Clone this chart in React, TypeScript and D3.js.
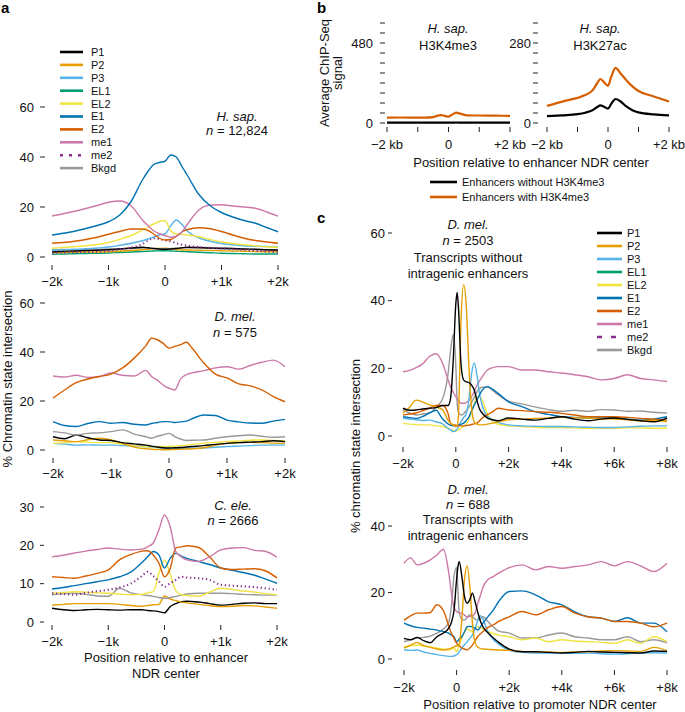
import React from "react";
import * as d3 from "d3";

const FONT = "'Liberation Sans', Arial, Helvetica, sans-serif";
const M = "\u2212";

// ---------- chromatin states ----------
const stateNames = ["P1", "P2", "P3", "EL1", "EL2", "E1", "E2", "me1", "me2", "Bkgd"];
const stateColors = ["#000000", "#E69F00", "#56B4E9", "#009E73", "#F0E442", "#0072B2", "#D55E00", "#CC79A7", "#882E8F", "#999999"];

// ---------- panel a: position relative to enhancer NDR center (kb) ----------
const enhX = [-2, -1.8, -1.6, -1.4, -1.2, -1.0, -0.8, -0.6, -0.4, -0.3, -0.2, -0.1, 0, 0.1, 0.2, 0.3, 0.4, 0.6, 0.8, 1.0, 1.2, 1.4, 1.6, 1.8, 2.0];
const enhTicks = [-2, -1, 0, 1, 2];
const enhTickLabels = [M + "2k", M + "1k", "0", "+1k", "+2k"];

// H. sap.
const hsapE1 = [8.8, 9.5, 10.3, 11.4, 12.6, 14.1, 16.8, 22.2, 30.8, 34.3, 37.0, 37.8, 38.3, 40.8, 40.0, 36.2, 32.5, 25.0, 20.5, 17.8, 16.0, 14.6, 13.5, 11.8, 10.1];
const hsapMe1 = [16.4, 17.3, 18.3, 19.4, 20.6, 21.9, 22.4, 20.5, 14.8, 12.5, 10.5, 9.3, 8.6, 7.9, 8.3, 10.0, 13.2, 18.8, 20.8, 20.9, 20.4, 20.0, 19.5, 18.0, 16.3];
const hsapE2 = [5.5, 5.8, 6.3, 7.0, 7.9, 9.1, 10.2, 11.2, 11.2, 10.6, 9.2, 7.5, 6.8, 7.0, 8.2, 10.0, 11.0, 11.7, 11.3, 10.2, 8.8, 7.5, 6.6, 6.0, 5.5];
const hsapEL2 = [3.5, 3.8, 4.1, 4.5, 5.0, 5.8, 7.1, 8.6, 10.8, 12.0, 13.2, 14.2, 14.6, 10.5, 9.2, 9.0, 8.8, 8.1, 7.0, 6.0, 5.4, 4.9, 4.5, 4.1, 3.9];
const hsapP3 = [2.8, 2.9, 3.1, 3.3, 3.6, 4.0, 4.7, 5.5, 6.5, 7.2, 8.0, 8.8, 9.3, 12.4, 14.8, 13.0, 10.3, 7.6, 6.3, 5.4, 4.9, 4.5, 4.3, 4.2, 4.1];
const hsapMe2 = [1.7, 1.8, 1.9, 2.0, 2.1, 2.4, 3.0, 3.8, 5.2, 6.6, 7.5, 7.2, 6.7, 6.3, 5.5, 4.9, 4.5, 4.0, 3.7, 3.4, 3.1, 2.8, 2.5, 2.2, 1.9];
const hsapP1 = [2.0, 2.3, 2.4, 2.6, 2.7, 2.9, 3.2, 3.6, 3.9, 3.7, 3.4, 3.2, 3.1, 3.2, 3.4, 3.7, 3.9, 3.8, 3.6, 3.5, 3.4, 3.2, 3.1, 2.9, 2.8];
const hsapP2 = [1.7, 1.8, 1.9, 2.0, 2.0, 2.1, 2.3, 2.6, 2.9, 3.1, 3.3, 3.4, 3.5, 3.3, 3.0, 2.8, 2.8, 2.7, 2.6, 2.5, 2.4, 2.3, 2.2, 2.1, 2.1];
const hsapEL1 = [1.1, 1.2, 1.3, 1.4, 1.5, 1.6, 1.8, 2.0, 2.2, 2.3, 2.4, 2.5, 2.5, 2.4, 2.3, 2.2, 2.1, 1.9, 1.7, 1.5, 1.4, 1.3, 1.2, 1.2, 1.2];
const hsapBkgd = [2.9, 3.0, 2.8, 3.1, 3.0, 3.2, 3.3, 3.4, 3.6, 3.5, 3.4, 3.3, 3.3, 3.4, 3.5, 3.6, 3.7, 3.6, 3.5, 3.3, 3.2, 3.1, 3.0, 2.9, 2.9];

// D. mel.
const dmelE2 = [21.2, 24.5, 27.5, 29.0, 30.0, 31.0, 33.5, 37.5, 42.5, 45.6, 45.0, 43.5, 41.6, 42.3, 43.0, 44.0, 41.5, 35.5, 31.0, 29.4, 27.0, 26.2, 24.5, 21.8, 19.7];
const dmelMe1 = [30.2, 29.8, 30.5, 29.6, 30.0, 31.4, 30.5, 30.2, 32.5, 30.0, 28.5, 26.5, 25.2, 24.5, 29.0, 30.8, 31.5, 32.4, 33.5, 34.0, 33.0, 34.5, 35.8, 36.7, 34.0];
const dmelE1 = [11.6, 10.0, 9.6, 10.8, 11.6, 10.9, 11.2, 10.5, 10.2, 10.8, 11.2, 11.6, 11.6, 11.2, 11.5, 11.8, 12.8, 14.3, 14.1, 12.2, 11.5, 11.0, 10.9, 11.8, 12.5];
const dmelBkgd = [7.5, 7.0, 6.1, 6.8, 7.0, 7.5, 8.2, 6.5, 5.4, 4.8, 5.6, 6.2, 6.8, 5.5, 4.5, 3.9, 4.0, 4.1, 4.8, 5.4, 5.8, 6.1, 5.6, 5.2, 5.4];
const dmelP1 = [5.4, 4.6, 6.1, 5.0, 4.1, 3.9, 3.0, 2.5, 2.0, 1.6, 1.2, 0.9, 0.8, 0.9, 1.0, 1.2, 1.4, 1.8, 2.3, 2.7, 3.0, 3.2, 3.4, 3.8, 3.4];
const dmelP2 = [4.1, 3.8, 3.4, 4.2, 4.8, 4.1, 2.6, 1.2, 0.5, 0.3, 0.2, 0.1, 0.1, 0.2, 0.3, 0.4, 0.5, 0.9, 1.9, 2.7, 3.0, 3.1, 3.0, 2.8, 2.7];
const dmelEL2 = [2.7, 3.0, 3.4, 3.2, 3.0, 3.0, 2.4, 1.8, 1.4, 1.3, 1.4, 1.4, 1.4, 1.6, 1.8, 2.0, 2.3, 2.8, 3.1, 3.4, 3.7, 4.0, 4.1, 3.9, 3.8];
const dmelP3 = [2.7, 2.4, 2.0, 2.1, 2.0, 2.0, 1.8, 1.6, 1.4, 1.2, 1.0, 0.8, 0.7, 0.7, 0.7, 0.7, 0.7, 0.8, 1.1, 1.4, 1.6, 1.8, 2.0, 2.0, 2.0];

// C. ele.
const celeMe1 = [17.0, 17.4, 18.0, 18.5, 18.9, 19.3, 19.0, 18.8, 19.0, 19.6, 20.6, 24.0, 27.9, 24.9, 18.4, 17.0, 16.2, 15.8, 17.0, 18.8, 19.3, 19.4, 18.7, 18.4, 16.9];
const celeE2 = [11.8, 11.6, 11.4, 12.0, 12.7, 13.6, 16.2, 17.6, 18.5, 18.6, 17.5, 15.4, 11.8, 13.9, 19.3, 19.6, 19.9, 19.5, 17.0, 14.1, 13.7, 13.8, 13.9, 13.3, 11.5];
const celeE1 = [8.6, 9.0, 9.5, 10.0, 10.5, 11.0, 11.8, 13.0, 15.5, 17.0, 18.4, 17.5, 14.1, 16.6, 17.9, 17.2, 16.6, 15.8, 15.0, 14.1, 13.5, 12.9, 12.2, 11.2, 10.1];
const celeMe2 = [7.5, 7.3, 7.1, 7.6, 8.0, 8.4, 9.0, 10.0, 12.0, 13.1, 12.0, 10.6, 9.2, 10.1, 11.0, 11.8, 11.6, 11.4, 11.0, 9.7, 9.5, 9.3, 9.1, 8.8, 8.4];
const celeEL2 = [7.5, 7.7, 7.9, 7.8, 7.6, 7.5, 7.3, 7.1, 7.2, 7.6, 7.9, 12.7, 16.2, 12.5, 8.2, 7.1, 6.9, 6.7, 7.8, 8.8, 8.5, 8.1, 7.8, 7.4, 7.1];
const celeBkgd = [7.1, 7.4, 7.5, 7.2, 6.8, 6.7, 8.8, 7.6, 7.1, 6.9, 6.7, 6.4, 6.2, 6.4, 6.7, 7.0, 7.3, 7.5, 7.5, 7.5, 7.4, 7.2, 7.1, 7.0, 7.1];
const celeP2 = [4.4, 4.6, 4.8, 4.8, 4.8, 4.8, 4.6, 4.3, 4.1, 4.3, 4.5, 4.6, 6.8, 6.0, 5.6, 5.2, 5.0, 4.6, 4.3, 4.0, 4.1, 4.3, 4.2, 3.9, 3.6];
const celeP1 = [3.6, 3.2, 3.0, 3.2, 3.3, 3.2, 3.1, 3.2, 3.2, 3.0, 2.9, 2.7, 2.4, 4.0, 4.8, 5.3, 5.4, 5.2, 4.8, 4.4, 4.6, 4.9, 5.0, 4.8, 4.8];

// ---------- panel b: average ChIP-Seq signal ----------
const chipX = [-2, -1.5, -1, -0.75, -0.5, -0.35, -0.25, -0.15, 0, 0.1, 0.25, 0.4, 0.6, 0.8, 1, 1.5, 2];
const k4WithoutK4 = [2, 2, 2, 2, 2, 2, 2, 2, 2, 2, 3, 2, 2, 2, 2, 2, 2];
const k4WithK4 = [32, 33, 32, 32, 35, 44, 47, 44, 38, 48, 62, 55, 46, 45, 45, 44, 43];
const k27WithoutK4 = [24, 27, 31, 36, 45, 56, 62, 58, 50, 66, 84, 76, 58, 45, 37, 30, 27];
const k27WithK4 = [60, 75, 88, 98, 115, 140, 154, 145, 130, 160, 193, 175, 150, 128, 112, 93, 75];
const chipTicks = [-2, -1, 0, 1, 2];
const chipTickLabels = [M + "2 kb", "", "0", "", "+2 kb"];
const chipLegend = ["Enhancers without H3K4me3", "Enhancers with H3K4me3"];
const chipColors = ["#000000", "#D55E00"];

// ---------- panel c: position relative to promoter NDR center (kb) ----------
const proX = [-2, -1.75, -1.5, -1.25, -1, -0.75, -0.5, -0.3, -0.2, -0.1, 0, 0.05, 0.1, 0.2, 0.3, 0.4, 0.5, 0.6, 0.7, 0.8, 0.9, 1.0, 1.2, 1.4, 1.6, 2.0, 2.5, 3, 3.5, 4, 4.5, 5, 5.5, 6, 6.5, 7, 7.5, 8];
const proTicks = [-2, 0, 2, 4, 6, 8];
const proTickLabels = [M + "2k", "0", "+2k", "+4k", "+6k", "+8k"];

// transcripts without intragenic enhancers (n = 2503)
const noEnhP1 = [8.2, 7.6, 7.7, 8.0, 8.2, 8.4, 9.0, 9.0, 11, 22, 39, 42.4, 38, 21, 16.5, 16.0, 15.8, 15, 13.6, 10.5, 8.0, 6.8, 5.3, 4.8, 4.5, 5.3, 5.0, 4.7, 5.2, 5.7, 5.0, 4.5, 5.0, 5.3, 4.9, 4.5, 4.2, 5.3];
const noEnhP2 = [6.8, 8.5, 10.6, 10.0, 9.2, 8.6, 7.8, 4.7, 3.8, 3.3, 2.8, 3.0, 6, 35, 44.7, 38, 20, 8, 4.2, 3.5, 3.3, 3.3, 3.5, 3.8, 4.2, 4.8, 5.0, 5.2, 5.3, 5.5, 5.4, 5.3, 5.1, 5.0, 4.8, 4.5, 4.6, 4.3];
const noEnhP3 = [5.2, 5.0, 4.8, 4.6, 4.7, 4.2, 3.6, 2.3, 1.8, 1.3, 1.6, 2.0, 2.8, 4.3, 5.5, 6.6, 11, 18.5, 21.6, 18, 12.5, 9.0, 5.8, 4.8, 4.0, 3.3, 3.0, 2.9, 2.8, 2.8, 2.7, 2.6, 2.5, 2.5, 2.7, 2.9, 3.0, 3.0];
const noEnhEL2 = [3.8, 3.5, 3.4, 3.3, 3.3, 3.0, 2.8, 2.3, 1.9, 1.6, 1.5, 1.6, 1.8, 2.3, 2.8, 3.6, 5.0, 7.3, 9.5, 11.5, 11.8, 10.5, 6.5, 4.2, 3.5, 3.0, 2.8, 2.6, 2.5, 2.5, 2.4, 2.3, 2.3, 2.3, 2.4, 2.4, 2.3, 2.3];
const noEnhE1 = [5.7, 5.4, 5.2, 5.8, 6.8, 7.6, 5.0, 3.6, 3.2, 3.0, 3.0, 3.1, 3.2, 3.5, 3.8, 4.6, 5.7, 7.5, 9.2, 10.6, 12.2, 13.6, 14.6, 13.8, 12.6, 10.1, 8.7, 7.2, 6.4, 5.7, 5.5, 5.3, 5.3, 5.3, 5.0, 4.7, 5.0, 5.7];
const noEnhE2 = [6.2, 6.5, 6.8, 7.5, 8.2, 9.0, 9.0, 6.8, 3.8, 3.3, 3.2, 3.1, 3.0, 3.0, 3.0, 3.1, 3.2, 3.4, 3.6, 3.8, 4.5, 5.3, 6.3, 7.2, 8.2, 7.7, 7.5, 7.2, 7.0, 6.7, 6.2, 5.7, 5.7, 5.7, 5.5, 5.2, 5.0, 4.7];
const noEnhMe1 = [19.0, 19.4, 20.2, 21.4, 23.5, 24.3, 21.5, 16.8, 14.6, 13.0, 11.6, 11.0, 10.5, 9.7, 9.7, 9.9, 10.6, 11.6, 13.2, 15.0, 16.3, 17.5, 19.5, 20.2, 20.5, 20.5, 19.5, 19.5, 19.0, 18.6, 18.1, 17.5, 16.6, 17.0, 18.1, 17.0, 16.6, 16.1];
const noEnhBkgd = [7.7, 6.8, 6.2, 6.5, 6.8, 8.5, 11.0, 18.0, 25.0, 30.0, 21, 10, 7.0, 6.2, 6.6, 7.5, 8.6, 9.9, 11.5, 13.0, 14.0, 14.4, 14.5, 13.5, 12.2, 10.3, 9.5, 8.6, 7.8, 7.3, 7.6, 7.3, 7.8, 7.7, 7.3, 7.4, 7.0, 6.8];

// transcripts with intragenic enhancers (n = 688)
const withEnhP1 = [6.2, 5.8, 6.5, 5.5, 4.9, 6.7, 7.8, 9.3, 11.0, 14.5, 24, 27.8, 29.3, 24.8, 18.8, 16.8, 17.8, 19.8, 17.3, 14.2, 11.5, 9.7, 7.8, 6.3, 5.0, 3.0, 2.2, 2.2, 2.0, 1.8, 2.0, 2.3, 2.1, 2.0, 1.9, 1.8, 2.4, 2.3];
const withEnhP2 = [3.3, 4.2, 5.0, 4.0, 3.5, 3.0, 2.7, 3.0, 3.3, 3.6, 4.0, 4.0, 4.5, 12, 24, 28, 22, 11, 5, 3.6, 3.2, 3.0, 2.9, 2.8, 2.7, 2.6, 2.3, 2.2, 2.1, 2.0, 2.1, 2.2, 2.4, 2.5, 2.4, 2.3, 3.5, 2.5];
const withEnhP3 = [2.7, 2.6, 2.7, 2.1, 1.7, 1.3, 1.0, 0.8, 0.8, 0.9, 1.3, 1.6, 2.2, 3.3, 4.3, 5.2, 6.2, 7.2, 9.0, 11.5, 13.0, 12.0, 8.0, 5.8, 4.5, 2.6, 2.0, 1.8, 1.8, 1.8, 1.7, 1.8, 1.6, 1.5, 1.6, 1.8, 1.9, 1.8];
const withEnhEL2 = [3.7, 4.0, 4.2, 3.9, 3.6, 3.3, 3.0, 2.8, 3.0, 3.3, 2.2, 3.0, 4.2, 6.3, 8.0, 9.0, 8.6, 8.2, 9.0, 9.7, 9.4, 9.0, 8.2, 7.6, 7.2, 6.7, 5.8, 6.3, 5.2, 5.8, 5.4, 5.2, 5.0, 4.7, 5.8, 4.7, 6.7, 5.2];
const withEnhE1 = [10.8, 10.0, 9.5, 9.3, 9.0, 8.7, 8.2, 7.8, 7.2, 6.7, 5.2, 5.5, 6.0, 6.7, 8.2, 9.7, 9.8, 9.7, 9.2, 8.7, 9.6, 10.8, 12.8, 14.8, 17.3, 20.3, 20.5, 19.3, 17.2, 16.3, 14.2, 12.7, 12.3, 11.3, 12.4, 10.8, 10.8, 8.2];
const withEnhE2 = [11.7, 13.0, 13.8, 13.8, 14.0, 16.3, 14.5, 10.0, 7.8, 6.2, 4.8, 4.3, 4.0, 3.3, 3.0, 2.7, 3.3, 4.2, 5.5, 6.7, 7.5, 8.2, 9.5, 10.3, 11.3, 12.7, 14.3, 13.3, 14.8, 15.8, 13.8, 12.7, 12.3, 11.3, 11.3, 10.8, 9.7, 10.8];
const withEnhMe1 = [28.8, 30.4, 28.3, 28.8, 29.8, 31.3, 33.0, 26, 20, 15.5, 14.3, 14.0, 13.9, 13.8, 13.2, 12.7, 12.8, 13.0, 13.8, 16.5, 19.0, 21.5, 24.0, 24.8, 25.8, 27.5, 28.3, 26.8, 27.8, 27.3, 27.8, 28.3, 29.3, 28.0, 29.3, 28.0, 26.3, 28.8];
const withEnhBkgd = [5.2, 5.8, 6.3, 6.5, 6.9, 7.8, 9.0, 11.0, 15.8, 24.8, 27.5, 20.8, 14, 12.0, 11.7, 12.5, 13.3, 12.8, 12.0, 11.7, 12.2, 12.7, 11.2, 9.6, 8.4, 7.8, 6.3, 6.3, 7.2, 7.8, 6.7, 6.3, 5.8, 5.8, 6.7, 5.2, 5.8, 4.9];

// ---------- helpers ----------
type Series = { key: string; values: number[]; color: string; dotted?: boolean };
const col = (k: string) => stateColors[stateNames.indexOf(k)];
const st = (k: string, values: number[]): Series => ({ key: k, values, color: col(k), dotted: k === "me2" });

type PanelProps = {
  xs: number[];
  series: Series[];
  xDom: [number, number];
  xRange: [number, number];
  yDom: [number, number];
  yRange: [number, number];
  yTicks: number[];
  yLabels: string[];
  yTickX: [number, number];
  yLabelX: number;
  xTicks: number[];
  xLabels: string[];
  xTickY: [number, number];
  xLabelY: number;
  lw?: number;
};

function LinePanel(p: PanelProps) {
  const x = d3.scaleLinear().domain(p.xDom).range(p.xRange);
  const y = d3.scaleLinear().domain(p.yDom).range(p.yRange);
  const line = d3
    .line<number>()
    .x((_, i) => x(p.xs[i]))
    .y((d) => y(d))
    .curve(d3.curveMonotoneX);
  const lw = p.lw ?? 1.4;
  return (
    <g>
      {p.series.map((s) => (
        <path
          key={s.key}
          d={line(s.values) || ""}
          fill="none"
          stroke={s.color}
          strokeWidth={s.dotted ? 2 : lw}
          strokeDasharray={s.dotted ? "1.3 2.7" : undefined}
          strokeLinejoin="round"
        />
      ))}
      {p.yTicks.map((t, i) => (
        <g key={"y" + i}>
          <line x1={p.yTickX[0]} x2={p.yTickX[1]} y1={y(t)} y2={y(t)} stroke="#222" strokeWidth={1} />
          {p.yLabels[i] ? (
            <text x={p.yLabelX} y={y(t)} dy="0.35em" textAnchor="end" fontSize={13} fill="#111">
              {p.yLabels[i]}
            </text>
          ) : null}
        </g>
      ))}
      {p.xTicks.map((t, i) => (
        <g key={"x" + i}>
          <line x1={x(t)} x2={x(t)} y1={p.xTickY[0]} y2={p.xTickY[1]} stroke="#222" strokeWidth={1} />
          {p.xLabels[i] ? (
            <text x={x(t)} y={p.xLabelY} textAnchor="middle" fontSize={13} fill="#111">
              {p.xLabels[i]}
            </text>
          ) : null}
        </g>
      ))}
    </g>
  );
}

function Legend({ x0, x1, tx, ys, names, colors, dash, lw }: { x0: number; x1: number; tx: number; ys: number[]; names: string[]; colors: string[]; dash?: string; lw?: number }) {
  return (
    <g>
      {names.map((n, i) => (
        <g key={n}>
          <line
            x1={x0}
            x2={x1}
            y1={ys[i]}
            y2={ys[i]}
            stroke={colors[i]}
            strokeWidth={lw ?? 2.6}
            strokeDasharray={n === "me2" ? dash : undefined}
          />
          <text x={tx} y={ys[i]} dy="0.36em" fontSize={11} fill="#111">
            {n}
          </text>
        </g>
      ))}
    </g>
  );
}

function TitleBlock({ x, lines }: { x: number; lines: { y: number; node: React.ReactNode }[] }) {
  return (
    <g>
      {lines.map((l, i) => (
        <text key={i} x={x} y={l.y} textAnchor="middle" fontSize={13} fill="#111">
          {l.node}
        </text>
      ))}
    </g>
  );
}

const nEq = (v: string) => (
  <>
    <tspan fontStyle="italic">n</tspan> = {v}
  </>
);
const sp = (v: string) => <tspan fontStyle="italic">{v}</tspan>;

export default function App() {
  const hsapSeries = [
    st("EL1", hsapEL1), st("P2", hsapP2), st("Bkgd", hsapBkgd), st("P1", hsapP1), st("me2", hsapMe2),
    st("P3", hsapP3), st("EL2", hsapEL2), st("E2", hsapE2), st("me1", hsapMe1), st("E1", hsapE1),
  ];
  const dmelSeries = [
    st("P3", dmelP3), st("EL2", dmelEL2), st("P2", dmelP2), st("P1", dmelP1), st("Bkgd", dmelBkgd),
    st("E1", dmelE1), st("me1", dmelMe1), st("E2", dmelE2),
  ];
  const celeSeries = [
    st("P1", celeP1), st("P2", celeP2), st("Bkgd", celeBkgd), st("EL2", celeEL2), st("me2", celeMe2),
    st("E1", celeE1), st("E2", celeE2), st("me1", celeMe1),
  ];
  const noEnhSeries = [
    st("Bkgd", noEnhBkgd), st("me1", noEnhMe1), st("EL2", noEnhEL2), st("P3", noEnhP3),
    st("E1", noEnhE1), st("E2", noEnhE2), st("P2", noEnhP2), st("P1", noEnhP1),
  ];
  const withEnhSeries = [
    st("Bkgd", withEnhBkgd), st("me1", withEnhMe1), st("EL2", withEnhEL2), st("P3", withEnhP3),
    st("E1", withEnhE1), st("E2", withEnhE2), st("P2", withEnhP2), st("P1", withEnhP1),
  ];
  const k4Series: Series[] = [
    { key: "w", values: k4WithoutK4, color: chipColors[0] },
    { key: "k", values: k4WithK4, color: chipColors[1] },
  ];
  const k27Series: Series[] = [
    { key: "w", values: k27WithoutK4, color: chipColors[0] },
    { key: "k", values: k27WithK4, color: chipColors[1] },
  ];
  const chipYTicks = d3.range(0, 601, 60);
  const chipYLabels = chipYTicks.map((t) => (t === 0 || t === 480 ? String(t) : ""));
  const chipYTicks2 = d3.range(0, 351, 35);
  const chipYLabels2 = chipYTicks2.map((t) => (t === 0 || t === 280 ? String(t) : ""));

  const legendA = stateNames.map((_, i) => 52 + i * 12.9);
  const legendC = stateNames.map((_, i) => 233 + i * 13);

  return (
    <div style={{ position: "absolute", left: 0, top: 0, background: "#fff" }}>
      <svg width={685} height={712} fontFamily={FONT} style={{ display: "block" }}>
        <rect width={685} height={712} fill="#fff" />
        {/* panel letters */}
        <text x={1} y={13} fontSize={15} fontWeight="bold">a</text>
        <text x={317} y={13} fontSize={15} fontWeight="bold">b</text>
        <text x={317} y={223} fontSize={15} fontWeight="bold">c</text>

        {/* ---------- panel a ---------- */}
        <Legend x0={60} x1={83} tx={91} ys={legendA} names={stateNames} colors={stateColors} dash="3 6" />
        <LinePanel
          xs={enhX} series={hsapSeries} xDom={[-2, 2]} xRange={[52, 278]} yDom={[0, 60]} yRange={[257, 107]}
          yTicks={[0, 20, 40, 60]} yLabels={["0", "20", "40", "60"]} yTickX={[40, 45]} yLabelX={34}
          xTicks={enhTicks} xLabels={enhTickLabels} xTickY={[265, 270]} xLabelY={286}
        />
        <TitleBlock x={237} lines={[{ y: 121, node: sp("H. sap.") }, { y: 135, node: nEq("12,824") }]} />

        <LinePanel
          xs={enhX} series={dmelSeries} xDom={[-2, 2]} xRange={[53, 285]} yDom={[0, 60]} yRange={[450, 303]}
          yTicks={[0, 20, 40, 60]} yLabels={["0", "20", "40", "60"]} yTickX={[40, 45]} yLabelX={34}
          xTicks={enhTicks} xLabels={enhTickLabels} xTickY={[458, 463]} xLabelY={478}
        />
        <TitleBlock x={235} lines={[{ y: 321, node: sp("D. mel.") }, { y: 337, node: nEq("575") }]} />

        <LinePanel
          xs={enhX} series={celeSeries} xDom={[-2, 2]} xRange={[52, 277]} yDom={[0, 30]} yRange={[622, 507]}
          yTicks={[0, 10, 20, 30]} yLabels={["0", "10", "20", "30"]} yTickX={[40, 44]} yLabelX={34}
          xTicks={enhTicks} xLabels={enhTickLabels} xTickY={[625, 630]} xLabelY={646}
        />
        <TitleBlock x={233} lines={[{ y: 510, node: sp("C. ele.") }, { y: 525, node: nEq("2666") }]} />
        <text x={166} y={662} textAnchor="middle" fontSize={13} fill="#111">Position relative to enhancer</text>
        <text x={166} y={678} textAnchor="middle" fontSize={13} fill="#111">NDR center</text>
        <text transform="translate(12,379) rotate(-90)" textAnchor="middle" fontSize={13} fill="#111">
          % Chromatin state intersection
        </text>

        {/* ---------- panel b ---------- */}
        <LinePanel
          xs={chipX} series={k4Series} xDom={[-2, 2]} xRange={[387, 510]} yDom={[0, 600]} yRange={[123, 23]}
          yTicks={chipYTicks} yLabels={chipYLabels} yTickX={[380, 385]} yLabelX={373}
          xTicks={chipTicks} xLabels={chipTickLabels} xTickY={[127, 132]} xLabelY={149} lw={2.2}
        />
        <LinePanel
          xs={chipX} series={k27Series} xDom={[-2, 2]} xRange={[547, 669]} yDom={[0, 350]} yRange={[123, 23]}
          yTicks={chipYTicks2} yLabels={chipYLabels2} yTickX={[533, 538]} yLabelX={531}
          xTicks={chipTicks} xLabels={chipTickLabels} xTickY={[127, 132]} xLabelY={149} lw={2.2}
        />
        <TitleBlock x={448} lines={[{ y: 33, node: sp("H. sap.") }, { y: 50, node: "H3K4me3" }]} />
        <TitleBlock x={600} lines={[{ y: 33, node: sp("H. sap.") }, { y: 50, node: "H3K27ac" }]} />
        <text transform="translate(329,73) rotate(-90)" textAnchor="middle" fontSize={13} fill="#111">Average ChIP-Seq</text>
        <text transform="translate(342,73) rotate(-90)" textAnchor="middle" fontSize={13} fill="#111">signal</text>
        <text x={531} y={167} textAnchor="middle" fontSize={13} fill="#111">Position relative to enhancer NDR center</text>
        <Legend x0={430} x1={457} tx={462} ys={[182, 197]} names={chipLegend} colors={chipColors} lw={2.6} />

        {/* ---------- panel c ---------- */}
        <LinePanel
          xs={proX} series={noEnhSeries} xDom={[-2, 8]} xRange={[403, 667]} yDom={[0, 60]} yRange={[436, 233]}
          yTicks={[0, 20, 40, 60]} yLabels={["0", "20", "40", "60"]} yTickX={[388, 392]} yLabelX={385}
          xTicks={proTicks} xLabels={proTickLabels} xTickY={[447, 452]} xLabelY={468}
        />
        <TitleBlock
          x={468}
          lines={[
            { y: 229, node: sp("D. mel.") },
            { y: 245, node: nEq("2503") },
            { y: 262, node: "Transcripts without" },
            { y: 278, node: "intragenic enhancers" },
          ]}
        />
        <Legend x0={597} x1={622} tx={627} ys={legendC} names={stateNames} colors={stateColors} dash="5 9" />

        <LinePanel
          xs={proX} series={withEnhSeries} xDom={[-2, 8]} xRange={[404, 667]} yDom={[0, 40]} yRange={[659, 526]}
          yTicks={[0, 20, 40]} yLabels={["0", "20", "40"]} yTickX={[388, 392]} yLabelX={385}
          xTicks={proTicks} xLabels={proTickLabels} xTickY={[670, 675]} xLabelY={692}
        />
        <TitleBlock
          x={468}
          lines={[
            { y: 494, node: sp("D. mel.") },
            { y: 509, node: nEq("688") },
            { y: 524, node: "Transcripts with" },
            { y: 540, node: "intragenic enhancers" },
          ]}
        />
        <text x={540} y={709} textAnchor="middle" fontSize={13} fill="#111">Position relative to promoter NDR center</text>
        <text transform="translate(360,446) rotate(-90)" textAnchor="middle" fontSize={13} fill="#111">
          % chromatin state intersection
        </text>
      </svg>
    </div>
  );
}
